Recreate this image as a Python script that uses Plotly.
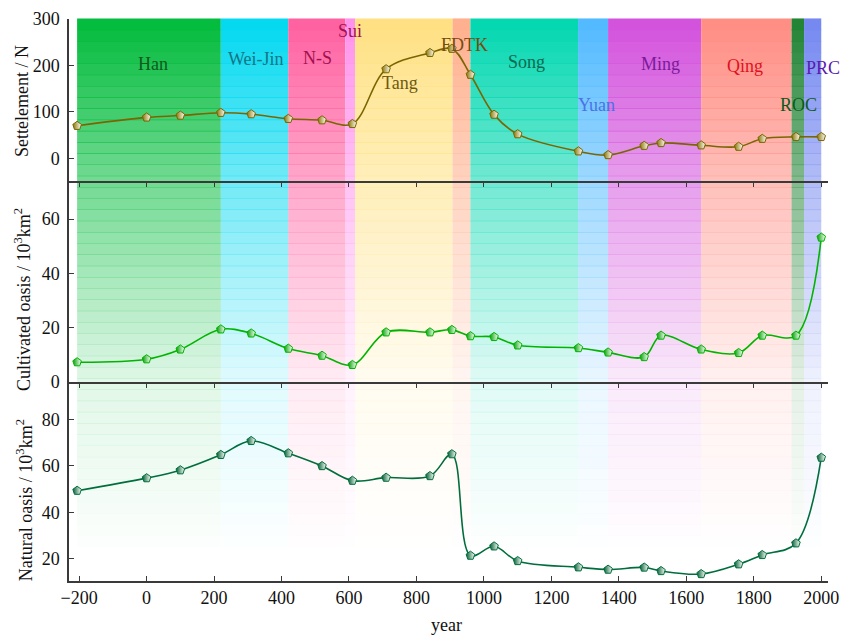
import numpy as np
import plotly.graph_objects as go

# ---------------- data ----------------
years = [-206, 0, 100, 220, 310, 420, 520, 610, 710, 840, 905, 960, 1030, 1100,
         1280, 1368, 1475, 1525, 1644, 1755, 1825, 1925, 2000]
settlement = [70, 88, 92, 98, 95, 85, 82, 74, 192, 227, 236, 180, 94, 52,
              15, 7, 27, 33, 28, 25, 42, 46, 46]
cultivated = [7.3, 8.4, 12.0, 19.4, 17.9, 12.3, 9.7, 6.3, 18.3, 18.3, 19.2, 16.9, 16.6, 13.5,
              12.5, 10.9, 9.2, 17.1, 12.0, 10.7, 17.1, 17.1, 53.2]
natural = [49.3, 54.7, 58.1, 64.7, 70.7, 65.4, 59.9, 53.6, 54.9, 55.6, 65.0, 21.4, 25.4, 19.1,
           16.4, 15.4, 16.3, 14.8, 13.5, 17.7, 21.7, 26.7, 63.5]

periods = ["Han", "Wei-Jin", "N-S", "Sui", "Tang", "FDTK", "Song", "Yuan", "Ming", "Qing", "ROC", "PRC"]
period_start = [-206, 220, 420, 589, 618, 907, 960, 1279, 1368, 1644, 1912, 1949]
period_end = [220, 420, 589, 618, 907, 960, 1279, 1368, 1644, 1912, 1949, 2000]
period_color = [(0, 187, 58), (0, 216, 240), (255, 95, 160), (255, 145, 235), (255, 225, 130),
                (255, 175, 140), (0, 215, 175), (80, 185, 255), (210, 80, 220), (255, 140, 130),
                (30, 130, 50), (115, 135, 240)]
label_x = [19, 325, 506, 603, 751, 941, 1125, 1333, 1524, 1773, 1932, 2004]
label_y = [203, 213, 215, 274, 163, 244, 207, 115, 203, 199, 115, 194]
label_color = ["#0b5a1c", "#137585", "#a0104e", "#a0105a", "#6b5a10", "#7a4a10", "#0a6a50",
               "#4a72e6", "#7a1a9a", "#e0101e", "#0b5a1c", "#5a1ab0"]

x_ticks = [-200, 0, 200, 400, 600, 800, 1000, 1200, 1400, 1600, 1800, 2000]

FONT = "Liberation Serif, Times New Roman, Times, serif"
FS = 18
AX = "#3a3a3a"

fig = go.Figure()

# ---------------- background gradient bands ----------------
shapes = []
n_strips = 50
alpha_p = [0.0, 0.04, 0.354, 0.712, 1.0]
alpha_v = [0.0, 0.0, 0.12, 0.55, 1.0]
for s, e, c in zip(period_start, period_end, period_color):
    for k in range(n_strips):
        y0 = k / n_strips
        y1 = (k + 1) / n_strips
        a = float(np.interp((y0 + y1) / 2, alpha_p, alpha_v))
        if a <= 0.005:
            continue
        shapes.append(dict(type="rect", xref="x3", yref="paper", x0=s, x1=e, y0=y0, y1=y1 + 0.001,
                           fillcolor=f"rgba({c[0]},{c[1]},{c[2]},{a:.3f})", line=dict(width=0),
                           layer="below"))

# ---------------- series ----------------
def add_series(y, xa, ya, line_col, fill_col):
    fig.add_trace(go.Scatter(
        x=years, y=y, xaxis=xa, yaxis=ya, mode="lines+markers",
        line=dict(color=line_col, width=1.6, shape="spline", smoothing=1.0),
        marker=dict(symbol="pentagon", size=9, color=fill_col,
                    gradient=dict(type="horizontal", color="white"),
                    line=dict(color=line_col, width=1)),
        showlegend=False, hoverinfo="x+y"))

add_series(settlement, "x", "y", "#7a6600", "#8a7400")
add_series(cultivated, "x2", "y2", "#00b400", "#00a000")
add_series(natural, "x3", "y3", "#006e3c", "#005e30")

# ---------------- axes ----------------
xcommon = dict(range=[-230, 2020], tickvals=x_ticks, showgrid=False, zeroline=False,
               showline=True, linecolor=AX, linewidth=1.5, tickcolor=AX, tickwidth=1.2,
               automargin=False, tickfont=dict(family=FONT, size=FS, color="#111"))
ycommon = dict(showgrid=False, zeroline=False, showline=True, linecolor=AX, linewidth=1.5,
               ticks="inside", ticklen=5, tickcolor=AX, tickwidth=1.2, automargin=False,
               tickfont=dict(family=FONT, size=FS, color="#111"), ticklabelstandoff=4)

fig.update_layout(
    xaxis=dict(**xcommon, domain=[0, 1], anchor="y", ticks="outside", ticklen=4, showticklabels=False, matches="x3"),
    xaxis2=dict(**xcommon, domain=[0, 1], anchor="y2", ticks="outside", ticklen=4, showticklabels=False, matches="x3"),
    xaxis3=dict(**xcommon, domain=[0, 1], anchor="y3", ticks="inside", ticklen=5),
    yaxis=dict(**ycommon, domain=[0.7117, 1], anchor="x", range=[-49, 300], tickvals=[0, 100, 200, 300]),
    yaxis2=dict(**ycommon, domain=[0.3541, 0.7117], anchor="x2", range=[0, 74], tickvals=[0, 20, 40, 60]),
    yaxis3=dict(**ycommon, domain=[0, 0.3541], anchor="x3", range=[10.5, 96], tickvals=[20, 40, 60, 80]),
    shapes=shapes,
    width=841, height=635, autosize=False,
    margin=dict(l=69, r=13, t=19, b=54),
    paper_bgcolor="white", plot_bgcolor="rgba(0,0,0,0)",
    font=dict(family=FONT, size=FS, color="#111"),
)

annotations = []
for name, lx, ly, lc in zip(periods, label_x, label_y, label_color):
    annotations.append(dict(x=lx, y=ly, xref="x", yref="y", text=name, showarrow=False,
                            font=dict(family=FONT, size=FS, color=lc), xanchor="center", yanchor="middle"))

# axis titles
annotations += [
    dict(x=-0.0619, y=0.854, xref="paper", yref="paper", text="Settelement / N", textangle=-90,
         showarrow=False, font=dict(family=FONT, size=FS, color="#111"), xanchor="center", yanchor="middle"),
    dict(x=-0.0619, y=0.50, xref="paper", yref="paper", text="Cultivated oasis / 10<sup>3</sup>km<sup>2</sup>",
         textangle=-90, showarrow=False, font=dict(family=FONT, size=FS, color="#111"),
         xanchor="center", yanchor="middle"),
    dict(x=-0.0592, y=0.144, xref="paper", yref="paper", text="Natural oasis / 10<sup>3</sup>km<sup>2</sup>",
         textangle=-90, showarrow=False, font=dict(family=FONT, size=FS, color="#111"),
         xanchor="center", yanchor="middle"),
    dict(x=0.497, y=-0.078, xref="paper", yref="paper", text="year", showarrow=False,
         font=dict(family=FONT, size=FS, color="#111"), xanchor="center", yanchor="middle"),
]
fig.update_layout(annotations=annotations)

fig.write_html("out.html", config={"displayModeBar": False, "responsive": False},
               post_script="document.body.style.margin='0';document.body.style.overflow='hidden';")
